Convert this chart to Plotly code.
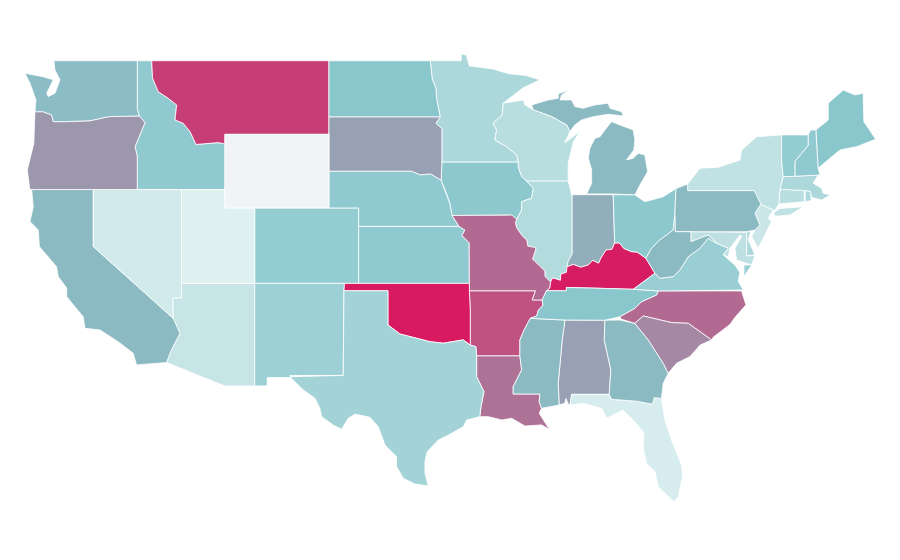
import plotly.graph_objects as go
from plotly.colors import sample_colorscale

# values (0-100 on the colour ramp), None = no data
states = ["AL", "AR", "AZ", "CA", "CO", "CT", "DE", "FL", "GA", "IA", "ID", "IL", "IN", "KS", "KY", "LA",
          "MA", "MD", "ME", "MI", "MN", "MO", "MS", "MT", "NC", "ND", "NE", "NH", "NJ", "NM", "NV", "NY",
          "OH", "OK", "OR", "PA", "RI", "SC", "SD", "TN", "TX", "UT", "VA", "VT", "WA", "WI", "WV", "WY"]
values = [46, 78, 10, 36, 27, 15, 19, 5, 36, 29, 28, 17, 41, 28, 99, 65,
          19, 13, 30, 36, 19, 68, 36, 86, 68, 30, 28, 28, 9, 24, 7, 12,
          29, 100, 50, 36, 18, 56, 46, 30, 22, 2, 25, 27, 35, 15, 36, None]
ramp = [[0, "#e6f4f4"], [0.3, "#8ac7cd"], [0.36, "#8cbac3"], [1, "#d81b60"]]
no_data = "#f2f3f5"

# shared borders, lon/lat
iowa_il = [(-90.75, 42.47), (-90.3, 42.07), (-90.41, 41.53), (-91.08, 41.34), (-91.08, 40.89), (-91.42, 40.38)]
mo_il = [(-91.42, 40.38), (-91.5, 40.2), (-91.42, 39.93), (-91.06, 39.5), (-90.73, 39.25), (-90.67, 38.93),
         (-90.2, 38.85), (-90.12, 38.8), (-90.18, 38.63), (-90.35, 38.22), (-89.9, 37.88), (-89.52, 37.57),
         (-89.51, 37.28), (-89.13, 36.98)]
mo_tn = [(-89.13, 36.98), (-89.2, 36.63), (-89.42, 36.5), (-89.55, 36.25), (-89.7, 36.0)]
ar_tn = [(-89.7, 36.0), (-89.65, 35.7), (-89.95, 35.45), (-90.07, 35.13), (-90.5, 35.0)]
ar_ms = [(-90.5, 35.0), (-90.9, 34.4), (-91.2, 33.83), (-91.2, 32.96)]
la_ms = [(-91.2, 32.96), (-91.08, 32.2), (-91.65, 31.29), (-91.65, 30.89)]
il_ky = [(-89.13, 36.98), (-89.0, 37.2), (-88.47, 37.07), (-88.45, 37.4), (-88.07, 37.5), (-88.03, 37.8)]
in_ky = [(-88.03, 37.8), (-87.6, 37.93), (-87.1, 37.78), (-86.6, 37.9), (-86.3, 38.15), (-85.9, 38.0),
         (-85.75, 38.27), (-85.4, 38.72), (-85.0, 38.75), (-84.82, 39.1)]
oh_ky = [(-84.82, 39.1), (-84.5, 39.1), (-84.2, 38.8), (-83.7, 38.63), (-83.3, 38.6), (-82.72, 38.27)]
oh_wv = [(-82.72, 38.27), (-82.34, 38.81), (-81.78, 39.26), (-80.88, 39.8), (-80.77, 40.6)]
ky_wv = [(-82.72, 38.27), (-82.11, 37.45)]
ky_tn = [(-83.57, 36.58), (-86.5, 36.65), (-88.07, 36.68), (-88.07, 36.5), (-89.42, 36.5)]
va_wv = [(-77.96, 39.08), (-78.53, 39.35), (-79.08, 38.81), (-79.87, 38.35), (-80.43, 37.63), (-80.88, 37.27),
         (-81.78, 37.18), (-82.11, 37.45)]
md_wv = [(-79.69, 39.17), (-78.53, 39.53), (-77.96, 39.08)]
mn_wi = [(-92.32, 46.69), (-92.39, 46.05), (-93.0, 45.6), (-92.77, 45.24), (-92.88, 44.7), (-92.09, 44.33),
         (-91.42, 43.88), (-91.3, 43.5)]
ia_wi = [(-91.3, 43.5), (-91.31, 43.24), (-91.08, 42.7), (-90.75, 42.47)]
wa_or = [(-123.84, 46.23), (-123.28, 46.23), (-122.71, 46.05), (-122.6, 45.69), (-121.82, 45.69), (-120.13, 45.74),
         (-118.9, 45.96), (-116.82, 46.0)]
id_or = [(-116.82, 46.0), (-116.43, 45.64), (-117.1, 44.33), (-116.95, 43.79), (-116.95, 42.0)]
id_mt = [(-115.92, 48.05), (-115.54, 47.32), (-114.87, 46.96), (-114.3, 46.6), (-114.41, 45.78), (-113.86, 45.6),
         (-113.4, 45.15), (-113.0, 44.45), (-111.5, 44.55), (-111.05, 44.48)]
ca_az = [(-114.53, 35.0), (-114.08, 34.19), (-114.71, 33.19), (-114.98, 32.6)]
ok_tx = [(-100.08, 34.64), (-99.27, 34.15), (-97.24, 33.73), (-96.36, 33.65), (-95.01, 33.83), (-94.54, 33.55)]
sd_ne = [(-98.5, 43.0), (-97.9, 42.8), (-97.2, 42.85), (-96.5, 42.5)]
ne_ia = [(-96.5, 42.5), (-96.1, 41.7), (-95.9, 41.2), (-95.77, 40.59)]
ks_mo = [(-95.31, 40.0), (-94.9, 39.8), (-95.1, 39.5), (-94.61, 39.1), (-94.6, 36.9)]
nd_mn = [(-97.23, 49.0), (-97.1, 48.0), (-96.85, 47.5), (-96.8, 46.9), (-96.56, 45.94)]
sd_mn = [(-96.56, 45.94), (-96.85, 45.6), (-96.45, 45.3), (-96.45, 43.5)]
ga_sc = [(-83.46, 34.73), (-82.56, 33.83), (-81.55, 32.56), (-81.22, 32.02)]
nc_sc = [(-83.46, 34.73), (-82.9, 35.13), (-81.0, 34.77), (-79.87, 34.73), (-78.3, 33.83)]
nc_tn = [(-81.89, 36.49), (-82.0, 36.27), (-83.01, 35.91), (-83.46, 35.55), (-84.47, 35.09)]
al_ga = [(-85.48, 34.9), (-85.52, 33.83), (-85.08, 32.2), (-85.19, 30.87)]
ms_al = [(-88.17, 34.91), (-88.35, 33.83), (-88.62, 31.47), (-88.56, 30.29)]
pa_nj = [(-74.98, 41.2), (-75.38, 40.71), (-75.05, 40.08), (-75.38, 39.8), (-75.94, 39.71)]
ca_coast = [(-114.98, 32.6), (-117.0, 32.47), (-117.22, 33.1), (-118.23, 33.73), (-119.46, 34.37), (-120.47, 34.46),
            (-120.59, 35.09), (-121.7, 36.18), (-121.7, 36.64), (-122.27, 37.27), (-122.38, 37.81), (-123.54, 38.9),
            (-123.61, 39.8), (-124.17, 40.26), (-123.95, 41.07), (-124.06, 42.0)]


def back(border):
    return border[::-1]


# each state is a list of rings
shapes = {
    "WA": [[(-122.56, 49.0), (-116.95, 49.0), (-116.95, 46.4)] + back(wa_or)
           + [(-123.77, 46.87), (-124.17, 47.78), (-124.51, 48.32), (-123.28, 48.13), (-122.6, 47.96),
              (-123.05, 47.23), (-122.94, 47.05), (-122.49, 47.23), (-122.15, 47.96), (-122.49, 48.5)]],
    "OR": [wa_or + id_or[1:] + [(-124.18, 42.0), (-124.35, 43.07), (-123.91, 44.52)]],
    "CA": [[(-119.91, 42.0), (-119.91, 38.9)] + ca_az + ca_coast[1:]],
    "NV": [[(-119.91, 42.0), (-113.97, 42.0), (-113.97, 36.12), (-114.57, 36.09), (-114.53, 35.0), (-119.91, 38.9)]],
    "ID": [[(-116.95, 49.0), (-115.98, 49.0)] + id_mt + [(-111.05, 42.0)] + back(id_or) + [(-116.95, 46.4)]],
    "MT": [[(-115.98, 49.0), (-104.05, 49.0), (-104.05, 45.0), (-111.05, 45.0)] + back(id_mt)],
    "WY": [[(-111.05, 45.0), (-104.05, 45.0), (-104.05, 41.0), (-111.05, 41.0)]],
    "UT": [[(-113.97, 42.0), (-111.05, 42.0), (-111.05, 41.0), (-109.05, 41.0), (-109.05, 36.9), (-113.97, 36.9)]],
    "CO": [[(-109.05, 41.0), (-102.05, 41.0), (-102.05, 36.9), (-109.05, 36.9)]],
    "AZ": [[(-113.97, 36.9), (-109.05, 36.9), (-109.05, 31.33), (-111.07, 31.33)] + back(ca_az)
           + [(-114.57, 36.09), (-113.97, 36.12)]],
    "NM": [[(-109.05, 36.9), (-103.0, 36.9), (-103.04, 36.5), (-103.09, 31.9), (-106.68, 31.9), (-106.6, 31.78),
            (-108.21, 31.78), (-108.21, 31.33), (-109.05, 31.33)]],
    "ND": [[(-104.05, 49.0)] + nd_mn + [(-104.05, 45.94)]],
    "SD": [[(-104.05, 45.94)] + sd_mn + back(sd_ne) + [(-104.05, 43.0)]],
    "NE": [[(-104.05, 43.0)] + sd_ne + ne_ia[1:] + [(-95.31, 40.0), (-102.05, 40.0), (-102.05, 41.0),
                                                    (-104.05, 41.0)]],
    "KS": [[(-102.05, 40.0)] + ks_mo + [(-102.05, 36.9)]],
    "OK": [[(-103.0, 36.9), (-94.6, 36.9), (-94.6, 36.5), (-94.54, 35.4)] + back(ok_tx)
           + [(-100.08, 36.5), (-103.04, 36.5)]],
    "TX": [[(-103.04, 36.5), (-100.08, 36.5)] + ok_tx
           + [(-94.16, 33.46), (-94.11, 32.96), (-94.11, 31.83), (-93.62, 31.02), (-93.82, 30.2), (-93.9, 29.66),
              (-94.78, 29.48), (-95.01, 29.11), (-96.13, 28.61), (-96.69, 28.39), (-97.44, 27.75), (-97.59, 27.21),
              (-97.59, 26.58), (-97.37, 25.89), (-98.26, 26.0), (-99.05, 26.31), (-99.5, 26.95), (-99.5, 27.48),
              (-100.28, 28.12), (-100.73, 29.11), (-101.29, 29.62), (-102.3, 29.8), (-102.75, 29.57),
              (-103.2, 28.97), (-103.76, 29.2), (-104.54, 29.66), (-104.66, 30.11), (-104.99, 30.66),
              (-105.78, 31.11), (-106.68, 31.83), (-103.09, 31.9)]],
    "MN": [[(-97.23, 49.0), (-95.15, 49.0), (-95.15, 49.38), (-94.8, 49.3), (-94.6, 48.72), (-93.0, 48.55),
            (-92.0, 48.3), (-90.8, 48.2), (-89.85, 47.96), (-91.0, 47.52)] + mn_wi + [(-96.45, 43.5)]
           + back(sd_mn)[1:] + back(nd_mn)[1:]],
    "IA": [[(-96.45, 43.5)] + ia_wi + iowa_il[1:] + [(-91.73, 40.61)] + back(ne_ia)],
    "MO": [[(-95.77, 40.59), (-91.73, 40.61)] + mo_il + mo_tn[1:]
           + [(-90.37, 36.0), (-90.15, 36.5), (-94.6, 36.5)] + back(ks_mo)],
    "AR": [[(-94.6, 36.5), (-90.15, 36.5), (-90.37, 36.0)] + ar_tn + ar_ms[1:]
           + [(-94.11, 32.96), (-94.16, 33.46), (-94.54, 33.55), (-94.54, 35.4)]],
    "LA": [[(-94.11, 32.96)] + la_ms
           + [(-89.85, 30.89), (-89.9, 30.47), (-89.74, 30.11), (-89.9, 29.85), (-89.6, 29.48), (-89.22, 28.97),
              (-89.74, 29.21), (-90.86, 29.15), (-91.75, 29.57), (-92.43, 29.48), (-93.33, 29.66), (-93.9, 29.66),
              (-93.82, 30.2), (-93.62, 31.02), (-94.11, 31.83)]],
    "MS": [[(-90.5, 35.0)] + ms_al + [(-89.74, 30.11), (-89.9, 30.47), (-89.85, 30.89)]
           + back(la_ms) + back(ar_ms)[1:]],
    "AL": [[(-88.17, 34.91)] + al_ga
           + [(-87.72, 30.87), (-87.83, 30.29), (-87.95, 30.35), (-88.1, 30.65), (-88.17, 30.4)]
           + back(ms_al)],
    "GA": [[(-84.47, 34.91)] + ga_sc
           + [(-81.55, 31.47), (-81.67, 30.65), (-82.16, 30.69), (-82.27, 30.33), (-83.35, 30.5), (-85.03, 30.6)]
           + back(al_ga)],
    "FL": [[(-87.72, 30.87), (-85.19, 30.87), (-85.03, 30.6), (-83.35, 30.5), (-82.27, 30.33), (-82.16, 30.69),
            (-81.67, 30.65), (-81.44, 29.48), (-81.0, 28.39), (-80.32, 27.03), (-80.25, 26.4), (-80.54, 25.31),
            (-80.83, 25.04), (-81.32, 25.4), (-81.89, 25.85), (-82.11, 26.67), (-82.67, 27.12), (-82.9, 27.94),
            (-82.85, 28.76), (-83.46, 29.39), (-84.25, 30.02), (-85.36, 29.57), (-85.7, 30.11), (-86.94, 30.38),
            (-87.83, 30.29)]],
    "SC": [nc_sc + [(-79.07, 33.55), (-79.76, 32.92), (-80.66, 32.56)] + back(ga_sc)],
    "NC": [[(-84.36, 34.95)] + nc_sc
           + [(-78.19, 33.98), (-77.06, 34.67), (-76.73, 35.05), (-75.99, 35.73), (-76.28, 36.49)] + nc_tn],
    "TN": [back(ar_tn) + back(mo_tn)[1:3] + back(ky_tn)[1:] + nc_tn + [(-85.48, 34.9), (-88.17, 34.91)]],
    "KY": [[(-89.42, 36.5), (-89.2, 36.63)] + il_ky + in_ky[1:] + oh_ky[1:] + ky_wv[1:] + ky_tn],
    "VA": [[(-83.57, 36.58), (-81.89, 36.49), (-76.16, 36.54), (-76.5, 37.0), (-76.4, 37.5), (-76.73, 37.9),
            (-77.52, 38.45), (-77.18, 38.81)] + va_wv,
           [(-75.6, 37.9), (-76.12, 37.9), (-76.12, 37.27)]],
    "WV": [oh_wv + [(-80.75, 39.71), (-79.69, 39.71)] + md_wv + va_wv[1:] + back(ky_wv)[1:]],
    "MD": [[(-79.69, 39.71), (-75.94, 39.68), (-75.94, 38.39), (-75.38, 38.42), (-75.6, 37.9), (-76.62, 38.17),
            (-76.73, 38.81), (-76.28, 39.44), (-76.39, 39.53), (-77.06, 38.81), (-77.18, 38.35), (-77.52, 38.45),
            (-77.18, 38.81)] + back(md_wv)],
    "DE": [[(-75.94, 39.7), (-75.67, 39.71), (-75.83, 39.26), (-75.38, 38.45), (-75.94, 38.39)]],
    "PA": [[(-80.7, 42.05), (-79.91, 42.3), (-79.91, 41.94), (-75.45, 41.94), (-75.27, 41.7)] + pa_nj
           + [(-80.75, 39.71), (-80.77, 40.6)]],
    "NJ": [[(-74.98, 41.2), (-74.15, 40.89), (-74.49, 40.44), (-74.27, 40.26), (-74.6, 39.71), (-75.16, 38.81),
            (-75.6, 39.44), (-75.38, 39.8), (-75.05, 40.08), (-75.38, 40.71)]],
    "NY": [[(-79.91, 42.3), (-79.08, 43.16), (-77.85, 43.21), (-76.39, 43.6), (-76.28, 44.15), (-75.27, 44.87),
            (-73.59, 44.97), (-73.59, 43.6), (-73.48, 42.7), (-73.7, 42.02), (-73.77, 41.22), (-74.04, 40.85),
            (-74.98, 41.2), (-75.27, 41.7), (-75.45, 41.94), (-79.91, 41.94)],
           [(-74.15, 40.73), (-73.7, 40.97), (-72.13, 41.07), (-73.0, 40.62), (-74.0, 40.55)]],
    "CT": [[(-73.7, 42.02), (-72.06, 41.94), (-72.06, 41.34), (-73.77, 41.22)]],
    "RI": [[(-72.0, 41.94), (-71.64, 41.89), (-71.58, 41.4), (-72.0, 41.34)]],
    "MA": [[(-73.48, 42.7), (-72.69, 42.72), (-71.13, 42.79), (-71.46, 42.34), (-70.9, 42.07), (-70.79, 41.8),
            (-70.29, 41.71), (-70.9, 41.43), (-71.58, 41.58), (-71.64, 41.89), (-72.06, 41.94), (-73.7, 42.02)]],
    "VT": [[(-73.59, 44.97), (-71.8, 44.97), (-71.8, 44.4), (-72.69, 43.53), (-72.69, 42.72), (-73.48, 42.7),
            (-73.59, 43.6)]],
    "NH": [[(-71.64, 45.24), (-71.28, 45.24), (-71.13, 43.16), (-71.0, 42.79), (-72.69, 42.72), (-72.69, 43.53),
            (-71.8, 44.4), (-71.8, 44.97)]],
    "ME": [[(-71.28, 45.24), (-70.45, 45.78), (-70.45, 46.69), (-69.44, 47.41), (-68.66, 47.14), (-68.1, 47.23),
            (-68.05, 45.69), (-67.25, 44.73), (-68.55, 44.33), (-69.66, 44.15), (-71.13, 43.16)]],
    "WI": [[(-92.32, 46.69), (-90.97, 46.87), (-90.86, 46.6), (-90.3, 46.33), (-89.06, 45.96), (-88.05, 45.51),
            (-87.83, 45.15), (-88.17, 44.55), (-87.16, 45.15), (-87.6, 44.6), (-87.95, 43.43), (-87.95, 42.47)]
           + back(ia_wi) + back(mn_wi)[1:]],
    "IL": [[(-90.75, 42.47), (-87.95, 42.47), (-87.68, 41.61), (-87.68, 38.5), (-87.95, 38.1)] + back(il_ky)
           + back(mo_il)[1:] + back(iowa_il)[1:]],
    "IN": [[(-87.68, 41.72), (-84.92, 41.72)] + back(in_ky) + [(-87.95, 38.1), (-87.68, 38.5)]],
    "OH": [[(-84.92, 41.72), (-83.46, 41.71), (-82.79, 41.34), (-81.55, 41.61), (-80.7, 42.05)]
           + back(oh_wv) + back(oh_ky)[1:]],
    "MI": [[(-86.71, 41.76), (-84.92, 41.76), (-83.46, 41.71), (-83.12, 42.25), (-82.6, 42.97), (-82.79, 43.88),
            (-83.24, 43.97), (-83.57, 43.7), (-84.02, 43.61), (-83.53, 44.15), (-83.46, 44.7), (-83.57, 45.24),
            (-84.47, 45.51), (-85.03, 45.69), (-85.48, 45.24), (-85.81, 44.87), (-86.15, 44.79), (-86.49, 44.24),
            (-86.6, 43.7), (-86.37, 43.07), (-86.37, 42.34)],
           [(-90.41, 46.6), (-89.29, 46.87), (-88.62, 46.96), (-88.62, 47.2), (-87.88, 47.41), (-88.39, 47.14),
            (-88.5, 46.87), (-87.72, 46.87), (-87.5, 46.51), (-86.94, 46.42), (-86.15, 46.6), (-85.25, 46.69),
            (-85.14, 46.42), (-84.35, 46.23), (-84.24, 46.0), (-85.25, 46.09), (-86.26, 45.96), (-87.05, 45.78),
            (-87.5, 45.51), (-87.83, 45.15), (-88.05, 45.51), (-89.06, 45.96), (-90.3, 46.33)]],
}


def ring_xy(rings):
    xs, ys = [], []
    for ring in rings:
        closed = list(ring) + [ring[0]]
        xs += [p[0] for p in closed] + [None]
        ys += [p[1] for p in closed] + [None]
    return xs, ys


fig = go.Figure()
for state, value in zip(states, values):
    xs, ys = ring_xy(shapes[state])
    color = no_data if value is None else sample_colorscale(ramp, value / 100)[0]
    fig.add_trace(go.Scatter(x=xs, y=ys, mode="lines", fill="toself", fillcolor=color,
                             line=dict(color="#ffffff", width=0.8), name=state, hoverinfo="name"))

# page body has an 8px margin, so the ranges sit 8px further over
fig.update_xaxes(range=[-125.65, -65.08], visible=False, fixedrange=True)
fig.update_yaxes(range=[21.435, 51.865], visible=False, fixedrange=True)
fig.update_layout(width=900, height=560, margin=dict(l=0, r=0, t=0, b=0), showlegend=False,
                  paper_bgcolor="#ffffff", plot_bgcolor="#ffffff")
fig.write_html("out.html")
